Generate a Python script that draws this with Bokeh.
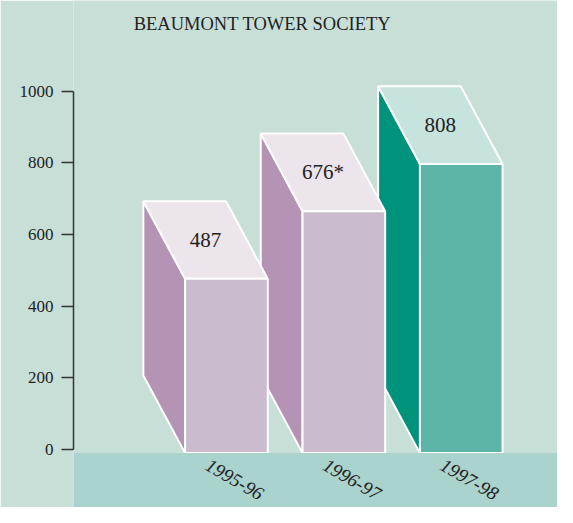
from bokeh.plotting import figure
from bokeh.models import Range1d, FixedTicker, Label, ColumnDataSource
from bokeh.core.properties import value
from bokeh.embed import file_html
from bokeh.resources import INLINE

# ---- data ----
title_text = "BEAUMONT TOWER SOCIETY"
categories = ["1995-96", "1996-97", "1997-98"]
values = [487, 676, 808]
value_labels = ["487", "676*", "808"]
y_ticks = [0, 200, 400, 600, 800, 1000]

front_colors = ["#cbbbcf", "#cbbbcf", "#5db5a8"]
side_colors = ["#b593b4", "#b593b4", "#00937b"]
top_colors = ["#ece5ec", "#ece5ec", "#c6e3de"]

BG = "#c8dfd8"
FLOOR_COLOR = "#aad3cd"
FONT = "Liberation Serif"

# ---- geometry (data units) ----
X0, X1 = -0.303, 3.820
Y0, Y1 = -163, 1254
FLOOR = -11
HALF_W = 0.352
DX = -0.356
DY = 217

p = figure(width=557, height=507, output_backend="svg", toolbar_location=None,
           x_range=Range1d(X0, X1), y_range=Range1d(Y0, Y1),
           x_axis_location=None, min_border_left=73, min_border_right=0,
           min_border_top=0, min_border_bottom=0)
p.background_fill_color = BG
p.border_fill_color = BG
p.outline_line_color = None
p.grid.visible = False

ax = p.yaxis[0]
ax.ticker = FixedTicker(ticks=y_ticks)
ax.bounds = (0, 1000)
ax.axis_line_color = "#333333"
ax.axis_line_width = 1.5
ax.major_tick_line_color = "#333333"
ax.major_tick_line_width = 1.5
ax.major_tick_out = 12
ax.major_tick_in = 0
ax.minor_tick_line_color = None
ax.major_label_standoff = 8
ax.major_label_text_font = FONT
ax.major_label_text_font_size = "17px"
ax.major_label_text_color = "#222222"

# draw bars right-to-left so left bars' fronts overlap right bars' sides
for i in reversed(range(len(values))):
    c = i + 1
    v = values[i]
    top = FLOOR + v
    l, r = c - HALF_W, c + HALF_W
    # side face
    p.patch([l, l, l + DX, l + DX], [FLOOR, top, top + DY, FLOOR + DY],
            fill_color=side_colors[i], line_color="white", line_width=2)
    # top face
    p.patch([l, r, r + DX, l + DX], [top, top, top + DY, top + DY],
            fill_color=top_colors[i], line_color="white", line_width=2)
    # front face
    p.patch([l, r, r, l], [FLOOR, FLOOR, top, top],
            fill_color=front_colors[i], line_color="white", line_width=2)

# floor band
p.quad(left=X0, right=X1, bottom=Y0, top=FLOOR,
       fill_color=FLOOR_COLOR, line_color=None)

# value labels on top faces
lab_src = ColumnDataSource(dict(
    x=[i + 1 + DX / 2 for i in range(len(values))],
    y=[FLOOR + v + DY / 2 for v in values],
    t=value_labels))
p.text(x="x", y="y", text="t", source=lab_src, text_align="center",
       text_baseline="middle", text_font=value(FONT), text_font_size="21px",
       text_color="#222222")

# category labels
cat_src = ColumnDataSource(dict(
    x=[i + 1 + 0.07 for i in range(len(categories))],
    y=[-84] * len(categories),
    t=categories))
p.text(x="x", y="y", text="t", source=cat_src, text_align="center",
       text_baseline="middle", angle=-30, angle_units="deg",
       text_font=value(FONT), text_font_style="italic", text_font_size="19px",
       text_color="#222222")

p.add_layout(Label(x=1.307, y=1187, text=title_text, text_align="center",
                   text_baseline="middle", text_font=FONT,
                   text_font_size="18.5px", text_color="#222222"))

open("out.html", "w").write(file_html(p, INLINE))
